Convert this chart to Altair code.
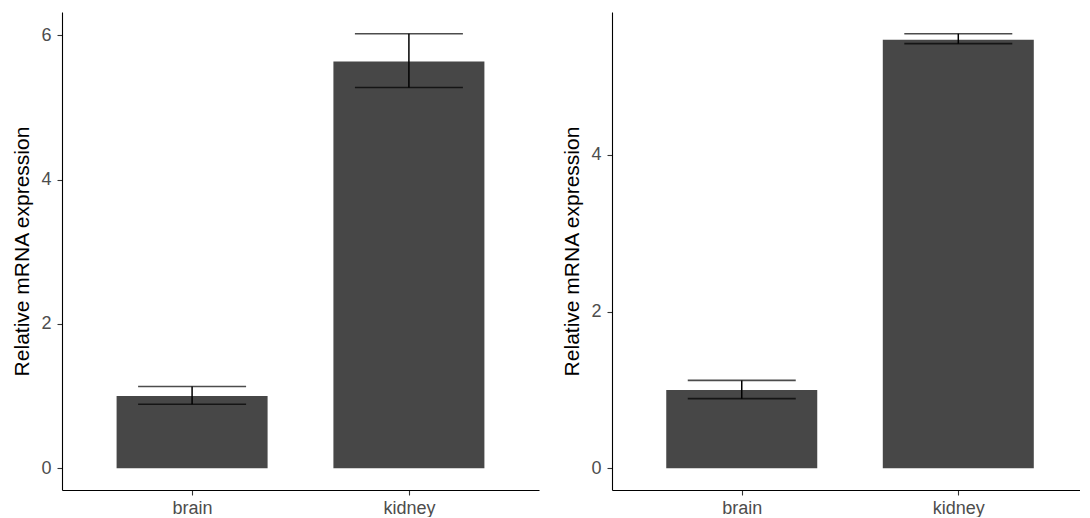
import altair as alt
import pandas as pd

tissues = ["brain", "kidney"]

# left panel
p1_mean = [1.00, 5.635]
p1_lower = [0.887, 5.275]
p1_upper = [1.132, 6.02]
p1_ticks = [0, 2, 4, 6]

# right panel
p2_mean = [1.00, 5.472]
p2_lower = [0.889, 5.421]
p2_upper = [1.122, 5.548]
p2_ticks = [0, 2, 4]

y_title = "Relative mRNA expression"
FONT = "Liberation Sans"


def panel(mean, lower, upper, ticks, width, xpad, xalign):
    df = pd.DataFrame({"tissue": tissues, "mean": mean, "lower": lower,
                       "upper": upper, "base": [0.0] * len(tissues)})
    top = max(upper)
    pad = 0.05 * top
    y_scale = alt.Scale(domain=[-pad, top + pad], nice=False, zero=False)
    x_enc = alt.X("tissue:N", sort=tissues,
                  scale=alt.Scale(type="point", padding=xpad, align=xalign),
                  axis=alt.Axis(title=None, labelAngle=0, labelPadding=4))
    y_axis = alt.Axis(title=y_title, values=ticks, format="d")
    base = alt.Chart(df)
    bars = base.mark_bar(size=151, color="#474747").encode(
        x=x_enc,
        y=alt.Y("mean:Q", scale=y_scale, axis=y_axis),
        y2="base:Q",
    )
    stem = base.mark_rule(color="black", strokeWidth=1.5).encode(
        x=x_enc,
        y=alt.Y("lower:Q", scale=y_scale, axis=y_axis),
        y2="upper:Q",
    )
    cap_lo = base.mark_tick(size=108, thickness=1.6, color="black").encode(
        x=x_enc, y=alt.Y("lower:Q", scale=y_scale, axis=y_axis))
    cap_hi = base.mark_tick(size=108, thickness=1.6, color="black").encode(
        x=x_enc, y=alt.Y("upper:Q", scale=y_scale, axis=y_axis))
    return alt.layer(bars, stem, cap_lo, cap_hi).properties(width=width, height=478)


chart = alt.hconcat(
    panel(p1_mean, p1_lower, p1_upper, p1_ticks, 477, 0.6, 0.5),
    panel(p2_mean, p2_lower, p2_upper, p2_ticks, 468, 0.5806, 0.516),
    spacing=22,
).properties(
    padding={"left": 3, "top": 4, "right": 0, "bottom": 0}
).configure_view(
    stroke=None
).configure_axis(
    grid=False,
    domainColor="black",
    domainWidth=1.1,
    tickColor="#333333",
    tickWidth=1.1,
    tickSize=5,
    labelFont=FONT,
    labelFontSize=18,
    labelColor="#4D4D4D",
    labelPadding=6,
    titleFont=FONT,
    titleFontSize=21,
    titleFontWeight="normal",
    titleColor="black",
    titlePadding=8,
)

chart.save("out.html", embed_options={"renderer": "svg", "actions": False})
